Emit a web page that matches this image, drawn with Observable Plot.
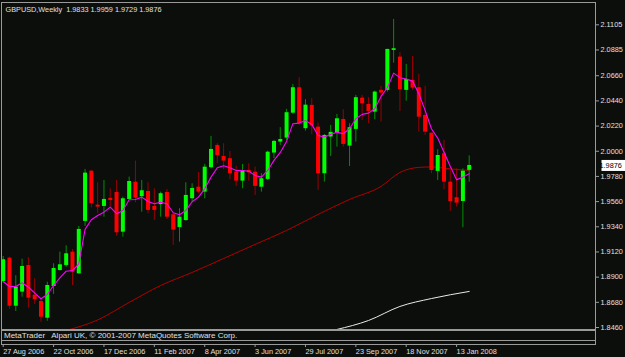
<!DOCTYPE html>
<html><head><meta charset="utf-8">
<script src="https://cdn.jsdelivr.net/npm/d3@7"></script>
<script src="https://cdn.jsdelivr.net/npm/@observablehq/plot@0.6"></script>
<style>
html,body{margin:0;padding:0;background:#0c0e0c;}
#wrap{width:625px;height:357px;position:relative;overflow:hidden;background:#0c0e0c;font-family:"Liberation Sans",Arial,sans-serif;}
#wrap svg{position:absolute;left:0;overflow:visible;}
.pane{position:absolute;left:1px;width:595px;border:1px solid #9a9a9a;box-sizing:border-box;}
.note{position:absolute;left:4px;font-size:8px;color:#e0e0e0;white-space:pre;line-height:9px;}
</style></head><body><div id="wrap"></div>
<script>
const symbolTitle = "GBPUSD,Weekly";
const firstWeek = new Date(Date.UTC(2006, 7, 27));
const afterLastWeek = new Date(Date.UTC(2008, 0, 28));
const copyright = "MetaTrader   Alpari UK, © 2001-2007 MetaQuotes Software Corp.";

const open = [1.8862,1.9066,1.8646,1.8769,1.9002,1.8742,1.8687,1.8541,1.8818,1.8958,
1.9002,1.9118,1.8929,1.9387,1.9826,1.9529,1.9518,1.9588,1.9640,1.9293,
1.9579,1.9730,1.9603,1.9649,1.9518,1.9533,1.9640,1.9445,1.9334,1.9395,
1.9585,1.9686,1.9643,1.9856,2.0051,1.9955,1.9935,1.9817,1.9739,1.9832,
1.9817,1.9686,1.9754,1.9984,2.0080,2.0115,2.0333,2.0555,2.0197,2.0401,
2.0211,1.9804,2.0124,2.0158,2.0278,2.0045,2.0191,2.0464,2.0409,2.0342,
2.0532,2.0532,2.0881,2.0823,2.0532,2.0619,2.0555,2.0313,2.0158,1.9824,
1.9978,1.9730,1.9594,1.9561,1.9833];
const high = [1.9081,1.9075,1.8912,1.9057,1.9072,1.8886,1.8711,1.8856,1.9017,1.9118,
1.9174,1.9142,1.9343,1.9841,1.9832,1.9725,1.9745,1.9672,1.9745,1.9599,
1.9774,1.9914,1.9745,1.9725,1.9672,1.9643,1.9666,1.9454,1.9498,1.9725,
1.9716,1.9815,1.9885,2.0130,2.0066,2.0066,1.9998,1.9867,1.9885,1.9891,
1.9861,1.9804,2.0001,2.0095,2.0206,2.0366,2.0584,2.0643,2.0450,2.0459,
2.0246,2.0147,2.0226,2.0322,2.0363,2.0241,2.0488,2.0488,2.0468,2.0526,
2.0567,2.0890,2.1152,2.0861,2.0759,2.0829,2.0672,2.0567,2.0158,2.0013,
2.0095,1.9832,1.9847,1.9847,1.9959];
const low = [1.8847,1.8620,1.8600,1.8725,1.8629,1.8661,1.8506,1.8515,1.8749,1.8952,
1.8987,1.8827,1.8923,1.9343,1.9506,1.9454,1.9424,1.9512,1.9258,1.9249,
1.9570,1.9550,1.9468,1.9454,1.9395,1.9424,1.9404,1.9177,1.9206,1.9387,
1.9555,1.9629,1.9585,1.9847,1.9891,1.9838,1.9751,1.9693,1.9672,1.9739,
1.9614,1.9643,1.9745,1.9935,2.0051,2.0095,2.0322,2.0226,2.0176,2.0147,
1.9658,1.9730,1.9955,2.0036,2.0036,1.9867,2.0080,2.0269,2.0241,2.0276,
2.0255,2.0517,2.0770,2.0348,2.0438,2.0532,2.0167,2.0138,1.9804,1.9745,
1.9664,1.9474,1.9512,1.9332,1.9729];
const close = [1.9052,1.8646,1.8812,1.8993,1.8716,1.8702,1.8550,1.8827,1.8976,1.9008,
1.9104,1.8943,1.9317,1.9809,1.9541,1.9512,1.9579,1.9570,1.9288,1.9585,
1.9736,1.9590,1.9655,1.9483,1.9483,1.9629,1.9424,1.9311,1.9424,1.9614,
1.9675,1.9643,1.9861,2.0016,1.9963,1.9914,1.9804,1.9739,1.9832,1.9812,
1.9693,1.9760,1.9992,2.0086,2.0103,2.0337,2.0555,2.0241,2.0403,2.0220,
1.9804,2.0138,2.0165,2.0284,2.0060,2.0206,2.0468,2.0415,2.0348,2.0517,
2.0508,2.0890,2.0896,2.0538,2.0628,2.0552,2.0298,2.0167,1.9832,1.9963,
1.9730,1.9561,1.9547,1.9826,1.9876];
// short moving average (magenta), one value per week
const maShort = [1.8862,1.8818,1.8818,1.8851,1.8812,1.8760,1.8711,1.8749,1.8827,1.8894,
1.8952,1.8958,1.9017,1.9317,1.9401,1.9439,1.9468,1.9512,1.9454,1.9483,
1.9576,1.9579,1.9599,1.9561,1.9541,1.9555,1.9541,1.9463,1.9445,1.9483,
1.9559,1.9599,1.9672,1.9774,1.9856,1.9873,1.9856,1.9832,1.9832,1.9826,
1.9789,1.9774,1.9832,1.9920,1.9990,2.0086,2.0241,2.0246,2.0269,2.0235,
2.0138,2.0124,2.0147,2.0167,2.0153,2.0197,2.0284,2.0322,2.0333,2.0372,
2.0479,2.0555,2.0683,2.0643,2.0631,2.0613,2.0503,2.0357,2.0197,2.0115,
1.9992,1.9867,1.9751,1.9774,1.9804];
// long moving average (dark red), read at these week indexes
const maMidWeek = [10,15,20,25,30,35,40,45,50,55,60,63,66,68,71,74];
const maMid = [1.8434,1.8526,1.8679,1.8827,1.8941,1.9063,1.9186,1.9308,1.9448,1.9579,1.9693,1.9815,1.9859,1.9863,1.9846,1.9832];
// longest moving average (white)
const maLongWeek = [53,58,63,68,74];
const maLong = [1.8443,1.8521,1.8644,1.8713,1.8775];

const priceTicks = [2.1105,2.0885,2.0660,2.0440,2.0220,2.0000,1.9780,1.9560,1.9340,1.9120,1.8900,1.8680,1.8460];
const timeTickEvery = 8;

const weeks = d3.utcWeek.range(firstWeek, afterLastWeek);
const bars = weeks.map((d, i) => ({date: d, open: open[i], high: high[i], low: low[i], close: close[i], up: close[i] >= open[i]}));
const shortLine = weeks.map((d, i) => ({date: d, v: maShort[i]}));
const midLine = maMidWeek.map((w, i) => ({date: weeks[w], v: maMid[i]}));
const longLine = maLongWeek.map((w, i) => ({date: weeks[w], v: maLong[i]}));
const last = bars[bars.length - 1];
const header = `${symbolTitle}  ${last.open.toFixed(4)} ${last.high.toFixed(4)} ${last.low.toFixed(4)} ${last.close.toFixed(4)}`;

const FONT = "Liberation Sans, Arial, sans-serif";
const xScale = {type: "utc", domain: [weeks[0], weeks[weeks.length - 1]], range: [2.7, 468.7]};

const main = Plot.plot({
  width: 625, height: 334,
  marginTop: 2, marginLeft: 1, marginRight: 30, marginBottom: 5,
  style: {background: "transparent", color: "#e0e0e0", fontFamily: FONT, fontSize: "7.3px"},
  x: {...xScale, axis: null},
  y: {domain: [1.846, 2.1105], range: [327, 24.3], axis: null},
  marks: [
    Plot.frame({stroke: "#9a9a9a"}),
    Plot.line(midLine, {x: "date", y: "v", stroke: "#b00000", strokeWidth: 1, curve: "monotone-x", clip: true}),
    Plot.line(longLine, {x: "date", y: "v", stroke: "#e8e8e8", strokeWidth: 1, curve: "monotone-x", clip: true}),
    Plot.ruleX(bars, {x: "date", y1: "low", y2: "high", stroke: d => d.up ? "#009000" : "#990000", strokeWidth: 1}),
    Plot.ruleX(bars, {x: "date", y1: "open", y2: "close", stroke: d => d.up ? "#00ff00" : "#ff0000", strokeWidth: 4}),
    Plot.line(shortLine, {x: "date", y: "v", stroke: "#ff00ff", strokeWidth: 1.1}),
    Plot.axisY(priceTicks, {anchor: "right", tickSize: 3, tickPadding: 2, tickFormat: d => d.toFixed(4), stroke: "#9a9a9a", fill: "#e0e0e0"}),
    Plot.text([last.close], {y: d => d, frameAnchor: "right", dx: 4, textAnchor: "start", fill: "#000", fontSize: 7.3,
      text: d => d.toFixed(4),
      render(index, scales, values, dimensions, context, next) {
        const g = next(index, scales, values, dimensions, context);
        const yy = values.y[index[0]];
        const r = d3.create("svg:rect")
          .attr("x", dimensions.width - dimensions.marginRight + 2)
          .attr("y", yy - 5.5).attr("width", 27).attr("height", 11)
          .attr("fill", "#ffffff").node();
        g.insertBefore(r, g.firstChild);
        return g;
      }}),
    Plot.text([header], {frameAnchor: "top-left", dx: 4, dy: 4, textAnchor: "start", fill: "#e0e0e0", fontSize: 7.3})
  ]
});
main.style.top = "0px";

const timeAxis = Plot.plot({
  width: 625, height: 13,
  marginTop: 0, marginLeft: 1, marginRight: 30, marginBottom: 12,
  style: {background: "transparent", color: "#e0e0e0", fontFamily: FONT, fontSize: "7.3px"},
  x: {...xScale, axis: null},
  marks: [
    Plot.axisX(weeks.filter((d, i) => i % timeTickEvery === 0), {anchor: "bottom", tickSize: 3, tickPadding: 1, textAnchor: "start",
      tickFormat: d3.utcFormat("%-d %b %Y"), stroke: "#9a9a9a", fill: "#e0e0e0"})
  ]
});
timeAxis.style.top = "343px";

const wrap = document.getElementById("wrap");
wrap.appendChild(main);
const p1 = document.createElement("div");
p1.className = "pane"; p1.style.top = "330px"; p1.style.height = "11px";
const p2 = document.createElement("div");
p2.className = "pane"; p2.style.top = "340px"; p2.style.height = "5px";
wrap.appendChild(p1); wrap.appendChild(p2);
const t = document.createElement("div"); t.className = "note"; t.style.top = "331px"; t.textContent = copyright;
wrap.appendChild(t);
wrap.appendChild(timeAxis);
</script></body></html>
